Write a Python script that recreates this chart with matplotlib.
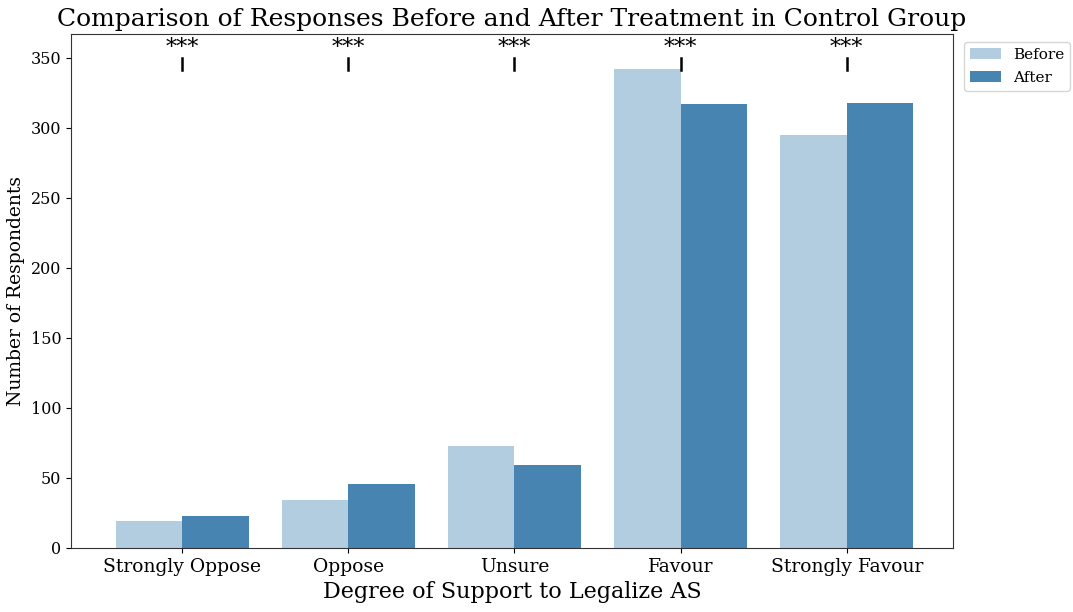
import matplotlib
matplotlib.use("Agg")
import matplotlib.pyplot as plt
import numpy as np

# Response counts per support level, before and after treatment
categories = ["Strongly Oppose", "Oppose", "Unsure", "Favour", "Strongly Favour"]
before = [19, 34, 73, 342, 295]
after = [23, 46, 59, 317, 318]
significance = ["***", "***", "***", "***", "***"]

plt.rcParams["font.family"] = "DejaVu Serif"

fig = plt.figure(figsize=(10.73, 6.12), dpi=100)
ax = fig.add_axes([71 / 1073, 1 - 548 / 612, 882 / 1073, 514 / 612])

x = np.arange(len(categories))
w = 0.4
ax.bar(x - w / 2, before, width=w, color="#b3cde0", label="Before")
ax.bar(x + w / 2, after, width=w, color="#4884b2", label="After")

# significance markers above each category
for xi, s in zip(x, significance):
    ax.plot([xi, xi], [341, 350], color="black", lw=1.8)
    ax.text(xi, 357, s, ha="center", va="center", fontsize=16)

ax.set_xlim(-0.67, 4.64)
ax.set_ylim(0, 367)
ax.set_xticks(x)
ax.set_xticklabels(categories, fontsize=13.5)
ax.tick_params(axis="y", labelsize=11.5)
for sp in ax.spines.values():
    sp.set_color("#333333")

ax.set_xlabel("Degree of Support to Legalize AS", fontsize=16)
ax.set_ylabel("Number of Respondents", fontsize=13.5)
ax.set_title("Comparison of Responses Before and After Treatment in Control Group",
             fontsize=18, pad=6)
ax.legend(loc="upper left", bbox_to_anchor=(1.004, 1.0), fontsize=11,
          labelspacing=0.6)

fig.savefig("out.png", dpi=100)
